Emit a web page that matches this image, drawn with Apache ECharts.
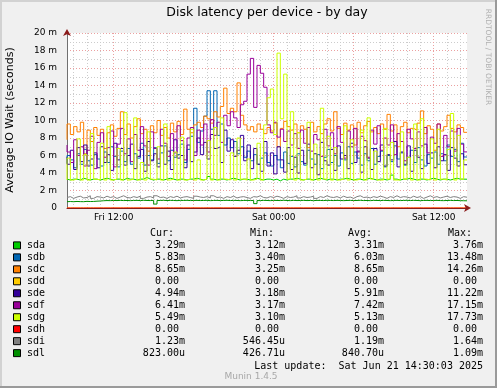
<!DOCTYPE html>
<html><head><meta charset="utf-8">
<script src="https://cdn.jsdelivr.net/npm/echarts@6/dist/echarts.min.js"></script>
<style>html,body{margin:0;padding:0;background:#f0f0f0}#c{width:497px;height:388px}</style>
</head><body><div id="c"></div><script>
// ---- data ----
const seriesNames = ['sda','sdb','sdc','sdd','sde','sdf','sdg','sdh','sdi','sdl'];
const yTicks = [0,2,4,6,8,10,12,14,16,18,20];
const xTickLabels = ['Fri 12:00','Sat 00:00','Sat 12:00'];
// time categories, 15 min steps from Fri 08:30 to Sat 14:30
const categories = [];
for (let i = 0; i < 121; i++) {
  const m = 8*60 + 30 + i*15;
  const day = m >= 1440 ? 'Sat' : 'Fri';
  const mm = m % 1440;
  const hh = Math.floor(mm/60), mi = mm % 60;
  categories.push(day + ' ' + (hh<10?'0':'') + hh + ':' + (mi<10?'0':'') + mi);
}
const sda = [3.3,3.2,3.3,3.3,3.2,3.4,3.3,3.2,3.3,3.3, 3.2,3.3,3.4,3.3,3.2,3.3,3.3,3.2,3.4,3.3, 3.3,3.2,3.3,3.3,3.5,3.3,3.2,3.3,3.3,3.2, 3.3,3.4,3.3,3.2,3.3,3.3,3.2,3.3,3.3,3.4, 3.3,3.2,3.3,3.6,3.3,3.2,3.3,3.3,3.2,3.3, 3.4,3.3,3.2,3.3,3.3,3.2,3.3,3.4,3.3,3.2, 3.3,3.3,3.2,3.3,3.1,3.3,3.2,3.3,3.3,3.4, 3.3,3.2,3.3,3.3,3.2,3.3,3.4,3.3,3.2,3.3, 3.3,3.2,3.3,3.3,3.4,3.3,3.2,3.3,3.3,3.2, 3.3,3.4,3.3,3.2,3.3,3.3,3.2,3.3,3.76,3.3, 3.2,3.3,3.3,3.4,3.3,3.2,3.3,3.3,3.2,3.3, 3.4,3.3,3.2,3.3,3.3,3.2,3.3,3.4,3.3,3.3, 3.29];
const sdb = [5.1,6.0,5.5,4.6,6.2,5.0,6.7,5.4,4.9,6.1, 5.6,4.8,6.4,5.2,7.0,5.9,4.7,6.5,5.3,6.8, 5.0,6.2,5.7,7.4,4.9,6.0,5.5,6.9,5.1,6.3, 7.1,5.4,6.6,5.8,6.1,7.3,5.2,6.7,8.2,11.4, 7.5,8.8,10.5,13.4,9.0,13.4,8.3,9.6,7.2,8.0, 6.9,7.6,6.2,7.0,5.8,6.5,5.4,6.1,5.0,5.7, 6.3,5.2,4.8,6.0,5.5,4.6,6.4,5.1,5.9,4.7, 6.2,5.3,4.9,6.6,5.6,5.0,6.1,4.5,5.8,6.7, 5.2,6.0,4.8,6.3,5.5,7.0,5.1,6.4,5.7,4.9, 6.2,5.4,6.8,5.0,5.9,6.5,4.7,6.0,5.3,7.1, 5.6,6.3,4.9,5.8,6.6,5.2,6.9,5.5,4.8,6.1, 5.7,6.4,5.0,6.2,5.4,7.2,5.9,6.7,5.3,7.4, 5.83];
const sdc = [7.8,9.6,8.4,9.3,8.7,9.8,6.2,8.9,7.6,9.2, 8.3,9.0,6.8,8.6,9.5,8.2,9.1,11.0,8.4,9.6, 8.0,9.3,10.2,8.5,9.0,6.5,9.4,8.6,10.0,8.3, 9.2,8.0,9.7,8.7,9.9,8.4,11.3,9.0,8.6,9.5, 9.8,9.2,10.5,10.2,9.7,11.0,10.4,11.6,13.7,10.8, 11.4,11.0,14.3,10.6,9.5,8.9,9.3,8.7,9.6,9.0, 8.5,9.2,8.8,9.7,7.0,9.1,9.9,9.3,8.9,9.6, 8.6,9.4,9.0,6.9,9.8,8.7,9.3,8.5,9.6,10.2, 8.8,11.0,9.1,8.4,9.7,8.9,9.5,7.2,9.8,8.6, 9.4,9.9,8.7,9.2,8.5,9.6,9.0,10.7,8.8,9.5, 7.0,9.3,9.8,8.6,9.1,8.9,9.7,11.1,8.5,9.4, 9.0,6.6,9.6,8.8,9.3,10.6,9.1,8.7,9.5,9.2, 8.65];
const sdd = [0,0,0,0,0,0,0,0,0,0, 0,0,0,0,0,0,0,0,0,0, 0,0,0,0,0,0,0,0,0,0, 0,0,0,0,0,0,0,0,0,0, 0,0,0,0,0,0,0,0,0,0, 0,0,0,0,0,0,0,0,0,0, 0,0,0,0,0,0,0,0,0,0, 0,0,0,0,0,0,0,0,0,0, 0,0,0,0,0,0,0,0,0,0, 0,0,0,0,0,0,0,0,0,0, 0,0,0,0,0,0,0,0,0,0, 0,0,0,0,0,0,0,0,0,0, 0];
const sde = [5.8,5.0,6.6,4.4,6.9,5.3,7.2,4.8,5.6,6.3, 4.6,7.0,5.2,6.1,4.3,7.4,5.5,6.8,4.9,6.0, 7.3,4.5,5.9,6.7,4.2,7.6,5.4,6.2,4.7,7.1, 5.0,6.5,4.4,7.8,5.7,6.0,4.6,7.2,5.3,6.4, 8.0,6.1,7.5,5.6,8.4,6.8,7.0,5.2,8.9,6.5, 7.8,5.9,6.6,8.3,5.4,7.2,4.5,6.8,5.0,4.2, 7.6,4.8,6.3,3.9,7.0,5.5,4.1,6.9,4.4,5.8, 4.0,6.6,5.1,7.3,4.6,6.2,3.8,7.5,5.4,4.9, 6.7,4.3,7.1,5.6,6.0,4.5,7.4,5.2,6.5,4.1, 7.0,5.7,4.4,6.8,5.3,7.2,4.8,6.1,5.5,7.6, 4.7,6.4,5.0,7.1,4.2,6.6,5.8,4.5,7.3,5.1, 6.3,4.6,7.0,5.4,6.1,4.3,6.9,5.7,4.8,6.2, 4.94];
const sdf = [7.2,6.4,5.2,7.8,6.0,7.0,4.8,6.6,8.2,4.5, 7.5,8.6,5.8,6.9,8.8,4.7,7.3,9.1,6.2,7.9, 5.3,8.4,6.6,9.3,7.1,4.9,8.7,6.8,5.6,9.0, 7.4,5.9,8.5,6.3,9.4,7.7,5.5,8.0,9.2,6.0, 8.9,7.2,9.6,6.4,10.1,8.3,9.8,7.5,10.6,9.4, 11.0,10.3,9.2,11.8,12.2,15.3,17.1,11.5,16.3,15.4, 13.8,9.5,8.6,9.8,8.1,9.0,7.6,8.8,7.2,8.5, 6.8,8.9,7.4,9.2,6.5,8.4,7.8,5.9,9.0,7.1, 8.6,6.2,9.3,7.5,5.7,8.8,7.0,9.1,6.4,8.2, 7.7,5.8,8.9,7.3,9.4,6.6,8.0,7.2,9.5,6.1, 8.5,7.6,5.4,9.0,7.9,6.8,8.7,7.1,9.2,6.3, 8.1,7.4,9.6,5.9,8.3,7.0,8.8,6.5,9.1,7.3, 6.41];
const sdg = [3.2,5.7,3.2,3.3,7.9,3.2,6.1,3.2,8.5,3.3, 3.2,7.4,3.2,9.3,3.2,3.3,6.8,3.2,10.9,3.2, 3.3,10.3,3.2,5.2,3.2,8.7,3.3,3.2,7.0,3.2, 9.6,3.2,3.3,6.4,3.2,8.1,3.2,3.3,9.0,3.2, 5.5,3.2,3.3,7.7,3.2,9.2,3.2,10.3,3.3,3.2, 6.3,3.2,8.0,3.3,3.2,5.6,3.2,3.3,7.4,3.2, 9.5,12.6,13.6,8.4,17.7,10.2,15.3,3.3,11.0,3.2, 8.6,3.2,3.3,9.8,3.2,7.3,3.2,11.4,3.3,8.2, 3.2,6.9,3.2,3.3,9.4,3.2,7.8,3.2,3.3,8.9, 3.2,10.3,3.3,6.5,3.2,3.2,9.1,3.3,7.5,3.2, 3.2,8.7,3.3,5.8,3.2,9.6,3.2,10.2,3.3,3.2, 7.9,3.2,9.0,3.3,3.2,6.7,10.8,3.2,8.3,3.3, 5.49];
const sdh = [0,0,0,0,0,0,0,0,0,0, 0,0,0,0,0,0,0,0,0,0, 0,0,0,0,0,0,0,0,0,0, 0,0,0,0,0,0,0,0,0,0, 0,0,0,0,0,0,0,0,0,0, 0,0,0,0,0,0,0,0,0,0, 0,0,0,0,0,0,0,0,0,0, 0,0,0,0,0,0,0,0,0,0, 0,0,0,0,0,0,0,0,0,0, 0,0,0,0,0,0,0,0,0,0, 0,0,0,0,0,0,0,0,0,0, 0,0,0,0,0,0,0,0,0,0, 0];
const sdi = [1.2,1.3,1.1,1.25,1.35,1.15,1.2,1.4,1.1,1.3, 1.25,1.15,1.35,1.2,1.3,1.1,1.25,1.4,1.2,1.15, 1.3,1.2,1.35,1.1,1.25,1.3,1.15,1.4,1.2,1.25, 1.1,1.3,1.2,1.35,1.15,1.25,1.3,1.2,1.1,1.35, 1.25,1.2,1.3,1.15,1.4,1.2,1.25,1.1,1.3,1.2, 1.35,1.15,1.25,1.3,1.2,1.1,1.3,1.25,1.4,1.2, 1.15,1.3,1.2,1.35,1.25,1.1,1.3,1.2,1.25,1.4, 1.15,1.3,1.2,1.25,1.35,1.1,1.3,1.2,1.4,1.25, 1.2,1.3,1.15,1.35,1.2,1.25,1.1,1.3,1.4,1.2, 1.25,1.15,1.3,1.2,1.35,1.25,1.1,1.3,1.2,1.4, 1.2,1.3,1.25,1.15,1.35,1.2,1.3,1.1,1.25,1.4, 1.2,1.3,1.15,1.25,1.35,1.2,1.3,1.25,1.1,1.3, 1.23];
const sdl = [0.72,0.74,0.72,0.75,0.73,0.72,0.76,0.74,0.75,0.78, 0.8,0.83,0.85,0.84,0.86,0.85,0.87,0.85,0.86,0.84, 0.86,0.87,0.85,0.88,0.86,0.85,0.87,0.45,0.86,0.88, 0.85,0.87,0.86,0.84,0.87,0.86,0.88,0.85,0.86,0.87, 0.85,0.86,0.88,0.84,0.86,0.87,0.85,0.86,0.88,0.85, 0.87,0.86,0.84,0.86,0.87,0.85,0.86,0.5,0.85,0.87, 0.86,0.84,0.87,0.86,0.85,0.88,0.86,0.84,0.87,0.85, 0.86,0.87,0.85,0.86,0.84,0.87,0.86,0.85,0.88,0.86, 0.85,0.87,0.86,0.84,0.86,0.87,0.85,0.86,0.88,0.85, 0.86,0.84,0.87,0.86,0.85,0.87,0.86,0.84,0.86,0.87, 0.85,0.86,0.88,0.85,0.87,0.86,0.84,0.86,0.87,0.85, 0.86,0.87,0.85,0.84,0.86,0.87,0.85,0.86,0.84,0.83, 0.823];
const curValues = ['3.29m','5.83m','8.65m','0.00','4.94m','6.41m','5.49m','0.00','1.23m','823.00u'];
const minValues = ['3.12m','3.40m','3.25m','0.00','3.18m','3.17m','3.10m','0.00','546.45u','426.71u'];
const avgValues = ['3.31m','6.03m','8.65m','0.00','5.91m','7.42m','5.13m','0.00','1.19m','840.70u'];
const maxValues = ['3.76m','13.48m','14.26m','0.00','11.22m','17.15m','17.73m','0.00','1.64m','1.09m'];
const lastUpdate = 'Last update:  Sat Jun 21 14:30:03 2025';

// ---- styles ----
const seriesData = [sda,sdb,sdc,sdd,sde,sdf,sdg,sdh,sdi,sdl];
const seriesColors = ['#00cc00','#0066b3','#ff8000','#ffcc00','#330099','#990099','#ccff00','#ff0000','#808080','#008f00'];
const SANS = 'DejaVu Sans';
const MONO = 'DejaVu Sans Mono';

const isHour = v => v.slice(-3) === ':00';
const hourOf = v => parseInt(v.slice(4,6),10);
const isMajor = v => isHour(v) && hourOf(v) % 6 === 0;
const isMinor = v => isHour(v) && !isMajor(v);
const isLabel = v => xTickLabels.indexOf(v) >= 0;

const graphic = [];
// frame shading
graphic.push({type:'line', shape:{x1:0,y1:1,x2:497,y2:1}, style:{stroke:'#d2d2d2',lineWidth:2}, silent:true});
graphic.push({type:'line', shape:{x1:1,y1:0,x2:1,y2:388}, style:{stroke:'#d2d2d2',lineWidth:2}, silent:true});
graphic.push({type:'line', shape:{x1:0,y1:387,x2:497,y2:387}, style:{stroke:'#9a9a9a',lineWidth:2}, silent:true});
graphic.push({type:'line', shape:{x1:496,y1:0,x2:496,y2:388}, style:{stroke:'#9a9a9a',lineWidth:2}, silent:true});
function txt(x, y, text, font, fill, align, rot) {
  const o = {type:'text', x:x, y:y, silent:true,
    style:{text:text, font:font, fill:fill||'#000', textAlign:align||'left', align:align||'left', textVerticalAlign:'middle', verticalAlign:'middle'}};
  if (rot) o.rotation = rot;
  return o;
}
graphic.push(txt(267, 13, 'Disk latency per device - by day', '12.5px ' + SANS, '#000', 'center'));
graphic.push(txt(10, 120, 'Average IO Wait (seconds)', '11px ' + SANS, '#000', 'center', Math.PI/2));
graphic.push(txt(488, 57, 'RRDTOOL / TOBI OETIKER', '7.5px ' + SANS, '#b0b0b0', 'center', -Math.PI/2));
const mono = '10px ' + MONO;
graphic.push(txt(150, 233.5, 'Cur:', mono));
graphic.push(txt(250, 233.5, 'Min:', mono));
graphic.push(txt(348, 233.5, 'Avg:', mono));
graphic.push(txt(448, 233.5, 'Max:', mono));
const colRight = [185, 285, 384, 483];
function valRight(colX, s) { return /[0-9]$/.test(s) ? colX - 6 : colX; }
seriesNames.forEach((n, k) => {
  const y = 245.7 + k * 11.97;
  graphic.push({type:'rect', shape:{x:13.5, y:y-3.8, width:7, height:7}, style:{fill:seriesColors[k], stroke:'#000', lineWidth:1}, silent:true});
  graphic.push(txt(27, y, n, mono));
  [curValues, minValues, avgValues, maxValues].forEach((arr, c) => {
    graphic.push(txt(valRight(colRight[c], arr[k]), y, arr[k], mono, '#000', 'right'));
  });
});
graphic.push(txt(483, 366.7, lastUpdate, mono, '#000', 'right'));
graphic.push(txt(251, 377, 'Munin 1.4.5', '9px ' + SANS, '#a8a8a8', 'center'));

const chart = echarts.init(document.getElementById('c'), null, {renderer:'canvas'});
chart.setOption({
  backgroundColor: '#f0f0f0',
  animation: false,
  grid: {left:67, right:30, top:33, bottom:180, show:true, backgroundColor:'#ffffff', borderWidth:0, containLabel:false},
  xAxis: [
    {type:'category', data:categories, boundaryGap:false, position:'bottom',
     axisLine:{show:false}, axisTick:{show:false},
     axisLabel:{interval:(i,v)=>isLabel(v), color:'#000', fontFamily:SANS, fontSize:9, margin:5},
     splitLine:{show:true, interval:(i,v)=>isMinor(v), lineStyle:{color:'#cccccc', type:[1,2], width:1}}},
    {type:'category', data:categories, boundaryGap:false, position:'bottom',
     axisLine:{show:false}, axisTick:{show:false}, axisLabel:{show:false},
     splitLine:{show:true, interval:(i,v)=>isMajor(v), lineStyle:{color:'#eba0a0', type:[1,2], width:1}}},
    {type:'category', data:categories, boundaryGap:false, position:'bottom', z:10,
     axisLine:{show:true, onZero:false, symbol:['none','arrow'], symbolSize:[6,7], symbolOffset:[0,4], lineStyle:{color:'#8b1a1a', width:1}},
     axisTick:{show:false}, axisLabel:{show:false}, splitLine:{show:false}}
  ],
  yAxis: [
    {type:'value', min:yTicks[0], max:yTicks[yTicks.length-1], interval:2, position:'left',
     axisLine:{show:true, lineStyle:{color:'#707070', width:1}}, axisTick:{show:false},
     axisLabel:{formatter:v => v === 0 ? '0' : v + ' m', color:'#000', fontFamily:SANS, fontSize:9, margin:10},
     splitLine:{show:true, lineStyle:{color:'#eba0a0', type:[1,2], width:1}},
     minorTick:{show:false, splitNumber:2},
     minorSplitLine:{show:true, lineStyle:{color:'#cccccc', type:[1,2], width:1}}},
    {type:'value', min:yTicks[0], max:yTicks[yTicks.length-1], position:'left', z:10,
     axisLine:{show:true, onZero:false, symbol:['none','arrow'], symbolSize:[6,7], symbolOffset:[0,4], lineStyle:{color:'#8b1a1a', width:0}},
     axisTick:{show:false}, axisLabel:{show:false}, splitLine:{show:false}}
  ],
  series: seriesNames.map((n, k) => ({
    name:n, type:'line', step:'start', data:seriesData[k], xAxisIndex:0, yAxisIndex:0,
    showSymbol:false, symbol:'none', silent:true,
    lineStyle:{width:1, color:seriesColors[k]}, itemStyle:{color:seriesColors[k]}
  })),
  graphic: graphic
});
</script></body></html>
